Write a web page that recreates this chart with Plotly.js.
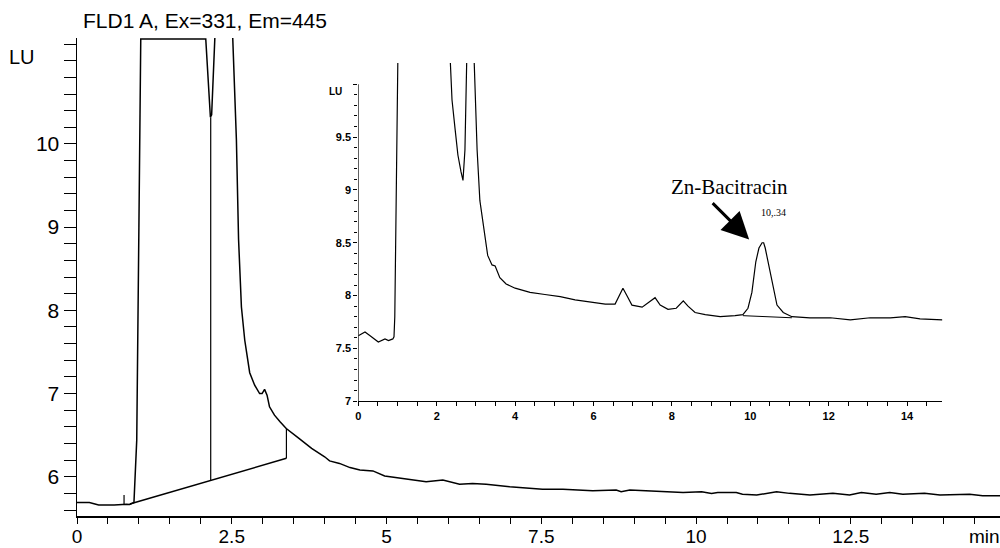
<!DOCTYPE html>
<html><head><meta charset="utf-8">
<script src="https://cdn.plot.ly/plotly-3.0.1.min.js"></script>
<style>html,body{margin:0;padding:0;background:#fff}#chart{width:1000px;height:548px}</style>
</head><body><div id="chart"></div>
<script>
// ---- Main chromatogram (min, LU) ----
const mainTime = [0, 0.2, 0.35, 0.6, 0.8, 0.85, 0.92, 0.965, 1.0, 1.03, 1.5, 2.08, 2.155, 2.175, 2.245, 2.5, 2.575, 2.61, 2.656, 2.71, 2.79, 2.87, 2.95, 2.99, 3.03, 3.07, 3.11, 3.19, 3.28, 3.38, 3.57, 3.79, 4.0, 4.08, 4.24, 4.41, 4.57, 4.78, 4.97, 5.16, 5.32, 5.48, 5.64, 5.91, 6.18, 6.39, 6.61, 6.99, 7.31, 7.52, 7.85, 8.12, 8.33, 8.71, 8.79, 8.93, 9.2, 9.47, 9.79, 10.09, 10.25, 10.35, 10.65, 10.75, 10.98, 11.3, 11.51, 11.84, 12.21, 12.48, 12.67, 12.91, 13.13, 13.34, 13.69, 13.94, 14.42, 14.63, 14.91];
const mainSignal = [5.69, 5.69, 5.66, 5.66, 5.67, 5.665, 5.69, 6.44, 9.0, 11.26, 11.26, 11.26, 10.32, 10.35, 11.6, 11.6, 10.05, 8.85, 8.04, 7.64, 7.25, 7.1, 7.0, 7.0, 7.05, 6.98, 6.84, 6.74, 6.66, 6.58, 6.47, 6.34, 6.24, 6.19, 6.16, 6.11, 6.08, 6.07, 6.01, 5.99, 5.98, 5.96, 5.94, 5.96, 5.91, 5.92, 5.91, 5.88, 5.86, 5.85, 5.85, 5.84, 5.83, 5.84, 5.82, 5.84, 5.83, 5.82, 5.81, 5.82, 5.80, 5.81, 5.81, 5.79, 5.78, 5.82, 5.80, 5.78, 5.80, 5.78, 5.81, 5.79, 5.81, 5.79, 5.80, 5.78, 5.79, 5.77, 5.77];

// integration marks on main chromatogram
const baseLineTime = [0.853, 3.383];
const baseLineSignal = [5.672, 6.221];
const dropATime = [2.16, 2.16];
const dropASignal = [5.956, 10.32];
const dropBTime = [3.383, 3.383];
const dropBSignal = [6.221, 6.58];
const markTime = [0.76, 0.76];
const markSignal = [5.67, 5.78];

// ---- Inset chromatogram ----
const insetTime = [0, 0.17, 0.3, 0.51, 0.68, 0.77, 0.88, 0.91, 0.93, 0.95, 0.97, 1.0, 1.02, 2.3, 2.34, 2.39, 2.47, 2.54, 2.62, 2.67, 2.72, 2.78, 2.93, 2.98, 3.03, 3.1, 3.2, 3.3, 3.41, 3.49, 3.61, 3.77, 4.0, 4.38, 4.76, 5.15, 5.53, 5.91, 6.3, 6.55, 6.65, 6.75, 6.85, 6.98, 7.24, 7.44, 7.57, 7.7, 7.9, 8.11, 8.29, 8.41, 8.59, 8.85, 9.23, 9.61, 9.81, 9.94, 10.04, 10.14, 10.22, 10.3, 10.34, 10.38, 10.45, 10.56, 10.68, 10.84, 11.06, 11.52, 12.04, 12.55, 13.06, 13.57, 13.95, 14.33, 14.9];
const insetSignal = [7.62, 7.655, 7.62, 7.56, 7.59, 7.575, 7.59, 7.61, 7.8, 8.5, 9.4, 10.4, 10.6, 10.6, 10.3, 9.85, 9.57, 9.33, 9.17, 9.09, 9.38, 10.5, 10.5, 9.85, 9.38, 8.9, 8.62, 8.38, 8.29, 8.28, 8.17, 8.11, 8.07, 8.03, 8.01, 7.99, 7.96, 7.94, 7.92, 7.92, 8.0, 8.07, 8.0, 7.91, 7.89, 7.94, 7.98, 7.91, 7.87, 7.88, 7.95, 7.9, 7.84, 7.82, 7.8, 7.81, 7.82, 7.88, 8.03, 8.32, 8.45, 8.5, 8.5, 8.45, 8.32, 8.1, 7.91, 7.84, 7.8, 7.79, 7.79, 7.77, 7.79, 7.79, 7.8, 7.78, 7.77];
const insetBaseTime = [9.81, 11.06];
const insetBaseSignal = [7.81, 7.79];

// ---- tick labels ----
const mainXTicks = [0, 2.5, 5, 7.5, 10, 12.5];
const mainXLabels = ['0', '2.5', '5', '7.5', '10', '12.5'];
const mainYTicks = [6, 7, 8, 9, 10, 11];
const mainYLabels = ['6', '7', '8', '9', '10', ''];
const insetXTicks = [0, 2, 4, 6, 8, 10, 12, 14];
const insetXLabels = ['0', '2', '4', '6', '8', '10', '12', '14'];
const insetYTicks = [7, 7.5, 8, 8.5, 9, 9.5, 10];
const insetYLabels = ['7', '7.5', '8', '8.5', '9', '9.5', ''];

const insetMinorY = [];
for (let i = 1; i < 30; i++) { if (i % 5 !== 0) insetMinorY.push(+(7 + i * 0.1).toFixed(2)); }

const lineStyle = {color: '#000', width: 1.5};
const thin = {color: '#000', width: 1.2};

const traces = [
  {x: mainTime, y: mainSignal, type: 'scatter', mode: 'lines', line: lineStyle, xaxis: 'x', yaxis: 'y'},
  {x: baseLineTime, y: baseLineSignal, type: 'scatter', mode: 'lines', line: lineStyle, xaxis: 'x', yaxis: 'y'},
  {x: dropATime, y: dropASignal, type: 'scatter', mode: 'lines', line: thin, xaxis: 'x', yaxis: 'y'},
  {x: dropBTime, y: dropBSignal, type: 'scatter', mode: 'lines', line: thin, xaxis: 'x', yaxis: 'y'},
  {x: markTime, y: markSignal, type: 'scatter', mode: 'lines', line: thin, xaxis: 'x', yaxis: 'y'},
  {x: insetTime, y: insetSignal, type: 'scatter', mode: 'lines', line: {color: '#000', width: 1.2}, xaxis: 'x2', yaxis: 'y2'},
  {x: insetBaseTime, y: insetBaseSignal, type: 'scatter', mode: 'lines', line: {color: '#000', width: 1}, xaxis: 'x2', yaxis: 'y2'}
];

const sans = 'Liberation Sans, Arial, Helvetica, sans-serif';
const serif = 'Liberation Serif, Times New Roman, serif';

const layout = {
  width: 1000, height: 548,
  margin: {l: 77, r: 0, t: 38, b: 32},
  paper_bgcolor: '#fff', plot_bgcolor: '#fff',
  showlegend: false,
  hovermode: false,
  title: {text: 'FLD1 A, Ex=331, Em=445', font: {family: sans, size: 21, color: '#000'},
          xref: 'container', yref: 'container', x: 0.083, xanchor: 'left', y: 0.963, yanchor: 'middle'},
  xaxis: {
    domain: [0, 1], range: [0, 14.91], showgrid: false, zeroline: false,
    showline: true, linecolor: '#000', linewidth: 1.5,
    tickmode: 'array', tickvals: mainXTicks, ticktext: mainXLabels,
    ticks: 'outside', ticklen: 6, tickwidth: 1, tickcolor: '#000',
    ticklabelstandoff: -3,
    minor: {tickmode: 'linear', tick0: 0, dtick: 0.5, ticks: 'outside', ticklen: 6, tickwidth: 1, tickcolor: '#000'},
    tickfont: {family: sans, size: 19, color: '#000'}
  },
  yaxis: {
    domain: [0, 1], range: [5.528, 11.273], showgrid: false, zeroline: false,
    showline: true, linecolor: '#000', linewidth: 1.5,
    tickmode: 'array', tickvals: mainYTicks, ticktext: mainYLabels,
    ticks: 'outside', ticklen: 12, tickwidth: 1, tickcolor: '#000',
    minor: {tickmode: 'linear', tick0: 0, dtick: 0.2, ticks: 'outside', ticklen: 12, tickwidth: 1, tickcolor: '#000'},
    tickfont: {family: sans, size: 21, color: '#000'}
  },
  xaxis2: {
    domain: [0.3048, 0.9376], range: [0, 14.9], anchor: 'y2', showgrid: false, zeroline: false,
    showline: true, linecolor: '#000', linewidth: 1.2,
    tickmode: 'array', tickvals: insetXTicks, ticktext: insetXLabels,
    ticks: 'outside', ticklen: 4, tickwidth: 1, tickcolor: '#000',
    minor: {tickmode: 'linear', tick0: 0, dtick: 0.5, ticks: 'outside', ticklen: 4, tickwidth: 1, tickcolor: '#000'},
    tickfont: {family: sans, size: 11, color: '#000', weight: 'bold'}
  },
  yaxis2: {
    domain: [0.240, 0.9476], range: [7, 10.2], anchor: 'x2', showgrid: false, zeroline: false,
    showline: false,
    tickmode: 'array', tickvals: insetYTicks, ticktext: insetYLabels,
    ticks: 'outside', ticklen: 4, tickwidth: 1, tickcolor: '#000',
    minor: {tickmode: 'array', tickvals: insetMinorY, ticks: 'outside', ticklen: 3, tickwidth: 1, tickcolor: '#000'},
    tickfont: {family: sans, size: 11, color: '#000', weight: 'bold'}
  },
  shapes: [
    {type: 'line', xref: 'x2', yref: 'y2', x0: 0, x1: 0, y0: 7, y1: 10, line: {color: '#000', width: 1.2}}
  ],
  annotations: [
    {xref: 'paper', yref: 'paper', x: -0.0596, y: 0.960, text: 'LU', showarrow: false, xanchor: 'center', yanchor: 'middle', font: {family: sans, size: 20, color: '#000'}},
    {xref: 'paper', yref: 'paper', x: 0.9837, y: -0.042, text: 'min', showarrow: false, xanchor: 'center', yanchor: 'middle', font: {family: sans, size: 19, color: '#000'}},
    {xref: 'paper', yref: 'paper', x: 0.2806, y: 0.889, text: 'LU', showarrow: false, xanchor: 'center', yanchor: 'middle', font: {family: sans, size: 10, color: '#000', weight: 'bold'}},
    {xref: 'x2', yref: 'y2', x: 9.48, y: 9.03, text: 'Zn-Bacitracin', showarrow: false, xanchor: 'center', yanchor: 'middle', font: {family: serif, size: 21, color: '#000'}},
    {xref: 'x2', yref: 'y2', x: 10.6, y: 8.79, text: '10,.34', showarrow: false, xanchor: 'center', yanchor: 'middle', font: {family: serif, size: 10, color: '#000'}},
    {xref: 'x2', yref: 'y2', x: 9.97, y: 8.53, text: ' ', showarrow: true, arrowhead: 2, arrowsize: 1.8, arrowwidth: 3, arrowcolor: '#000', ax: -38, ay: -38, standoff: 0, font: {size: 1}}
  ]
};

Plotly.newPlot('chart', traces, layout, {staticPlot: true, displayModeBar: false});
</script>
</body></html>
